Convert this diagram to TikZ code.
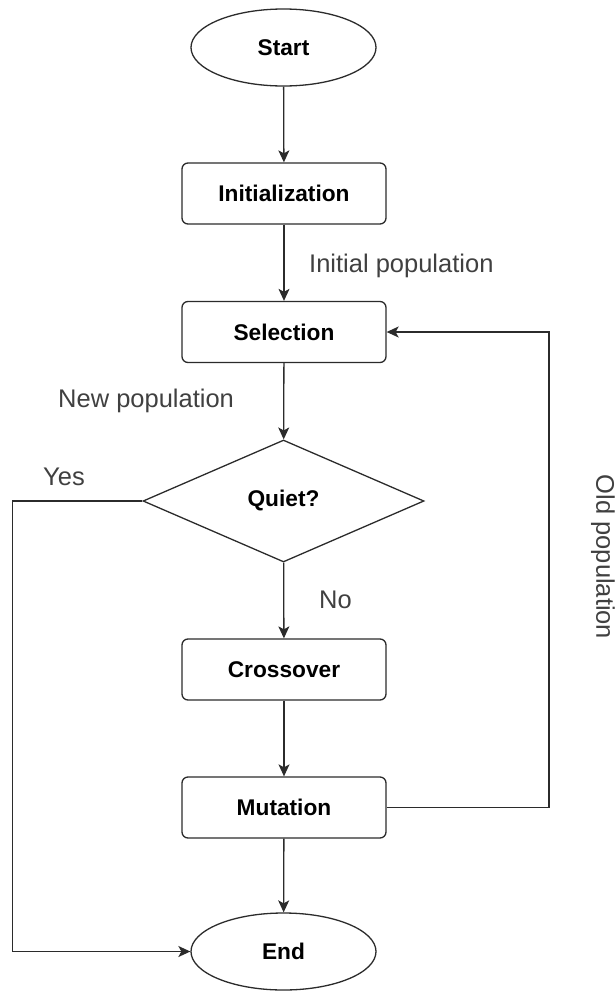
\documentclass[tikz,border=0pt]{standalone}
\usepackage{fontspec}
\setmainfont{Liberation Sans}
\usetikzlibrary{shapes.geometric,arrows.meta}
\definecolor{linec}{HTML}{2B2B2B}
\definecolor{labc}{HTML}{404040}
\tikzset{
  nodefont/.style={font=\fontsize{22.7}{26}\selectfont\bfseries},
  box/.style={draw=linec, line width=1.3pt, rounded corners=6pt, minimum width=204pt, minimum height=61pt, inner sep=0pt, nodefont},
  term/.style={draw=linec, line width=1.3pt, ellipse, minimum width=185pt, minimum height=77pt, inner sep=0pt, nodefont},
  decision/.style={draw=linec, line width=1.3pt, diamond, minimum width=281pt, minimum height=122pt, inner sep=0pt, nodefont},
  lab/.style={text=labc, font=\fontsize{25.5}{30}\selectfont, inner sep=0pt},
  arr/.style={draw=linec, line width=1.3pt, -{Stealth[length=12pt,width=11pt,inset=3pt]}},
  ln/.style={draw=linec, line width=1.3pt}
}
\begin{document}
\begin{tikzpicture}[x=1pt,y=-1pt]
  \useasboundingbox (0,0) rectangle (615,991);
  \node[term] (start) at (283.5,47.5) {Start};
  \node[box] (init) at (284,193.5) {Initialization};
  \node[box] (sel) at (284,332) {Selection};
  \node[decision] (dec) at (283.5,501) {Quiet?};
  \node[box] (cross) at (284,669.5) {Crossover};
  \node[box] (mut) at (284,807.5) {Mutation};
  \node[term] (end) at (283.5,951.5) {End};

  \node[lab, anchor=base west] (linit) at (309,272) {Initial population};
  \node[lab, anchor=base west] (lnew) at (58,407) {New population};
  \node[lab, anchor=base west] (lyes) at (43,485) {Yes};
  \node[lab, anchor=base west] (lno) at (319,608) {No};
  \node[lab, rotate=-90, anchor=center] (lold) at (603,557) {Old population};

  \coordinate (yl) at (12.7,501);
  \coordinate (rl) at (549,807.5);

  \draw[arr] (start) -- (init);
  \draw[arr] (init) -- (sel);
  \draw[arr] (sel) -- (dec);
  \draw[arr] (dec) -- (cross);
  \draw[arr] (cross) -- (mut);
  \draw[arr] (mut) -- (end);
  \draw[arr] (dec.west) -- (yl) |- (end.west);
  \draw[arr] (mut.east) -- (rl) |- (sel.east);
\end{tikzpicture}
\end{document}
